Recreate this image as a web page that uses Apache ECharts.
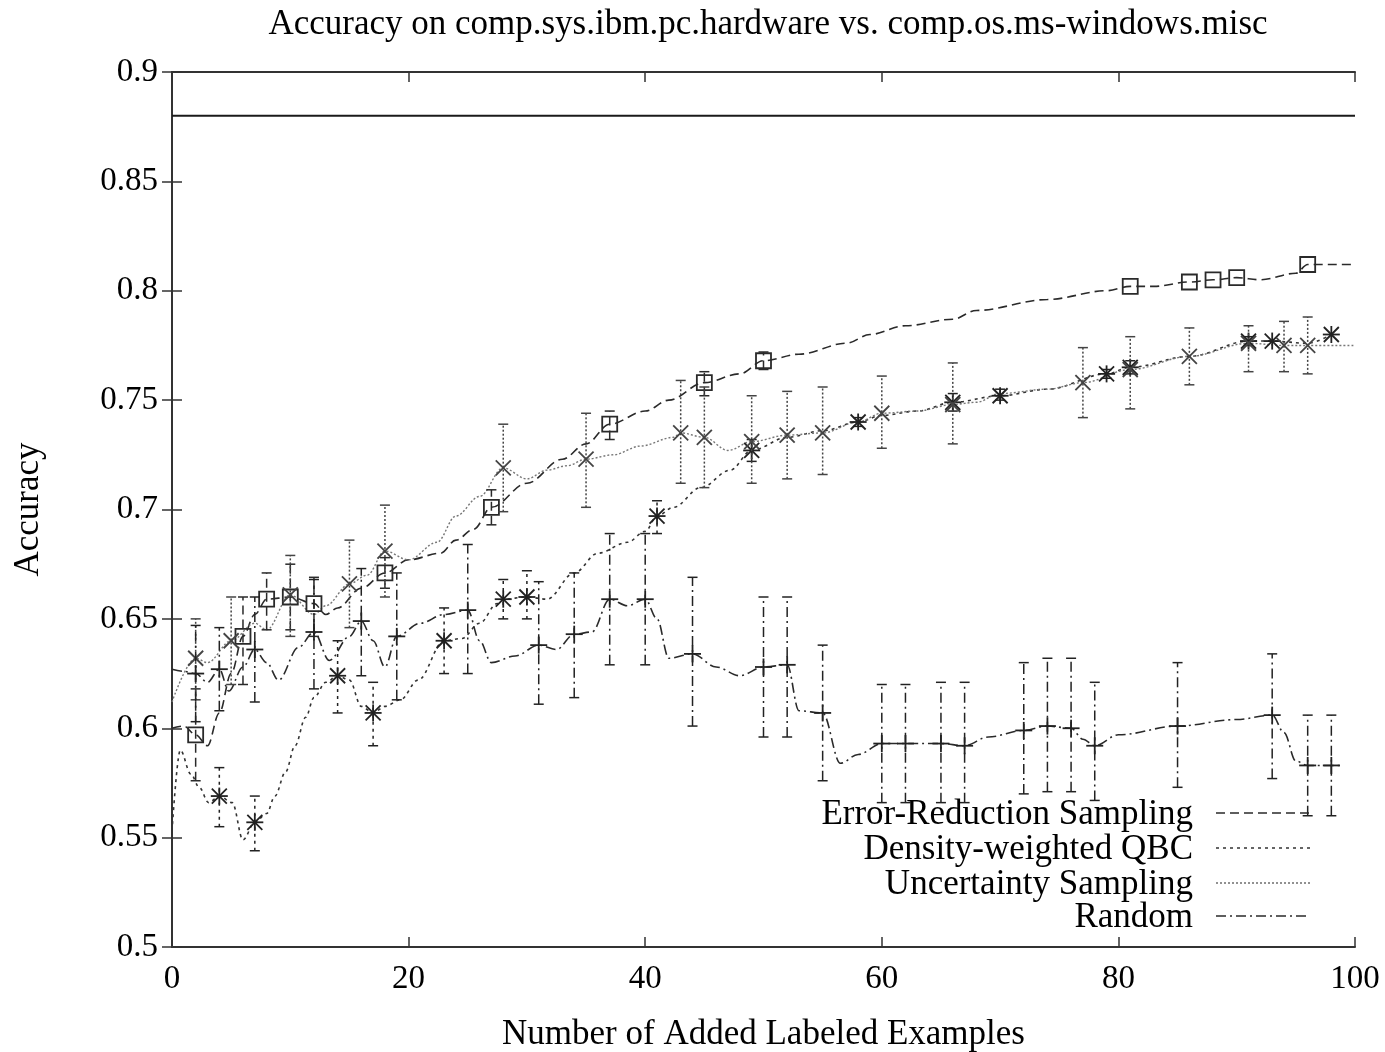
<!DOCTYPE html>
<html style="height: 100%">
    <head>
        <meta charset="utf-8">
        <title>Accuracy on comp.sys.ibm.pc.hardware vs. comp.os.ms-windows.misc</title>
    </head>
    <body style="height: 100%; margin: 0; background: #fff">
        <div id="container" style="width:1385px;height:1052px"></div>

        <script type="text/javascript" src="https://cdn.jsdelivr.net/npm/echarts@6/dist/echarts.min.js"></script>
        <script type="text/javascript">
// ---- data ----
var seriesNames = ['Error-Reduction Sampling', 'Density-weighted QBC', 'Uncertainty Sampling', 'Random'];
var allLabeled = [[0, 0.88], [100, 0.88]];

// smoothed curves [x, accuracy]
var erLine = [[0,0.600],[1,0.601],[2,0.597],[3,0.592],[4,0.607],[5,0.625],[6,0.642],[7,0.652],[8,0.659],[10,0.660],
    [12,0.657],[13,0.652],[14,0.655],[16,0.664],[18,0.671],[20,0.677],[22.7,0.680],[24,0.686],[25.5,0.691],[27,0.701],
    [30,0.712],[33,0.723],[35,0.730],[37,0.739],[40,0.745],[42,0.750],[45,0.758],[48,0.762],[50,0.768],[53,0.771],
    [57,0.776],[59,0.780],[62,0.784],[66,0.787],[68,0.791],[74,0.796],[79,0.800],[81,0.802],[83,0.802],[86,0.804],
    [88,0.805],[90,0.806],[92,0.805],[95,0.808],[96,0.812],[100,0.812]];
var qbcLine = [[0,0.553],[0.7,0.590],[1.6,0.579],[2.3,0.573],[3.1,0.566],[4,0.569],[5.1,0.566],[6,0.549],[7,0.557],[8,0.561],
    [8.7,0.569],[9.6,0.580],[10.4,0.592],[11.3,0.605],[12,0.614],[13,0.621],[14,0.624],[15,0.622],[16,0.610],[17,0.607],
    [18,0.610],[19.3,0.613],[20.8,0.622],[23,0.640],[24.5,0.641],[26,0.648],[27.5,0.657],[28,0.659],[30,0.660],[31.7,0.659],
    [34,0.671],[36,0.680],[38.5,0.685],[40,0.690],[41,0.697],[42.4,0.701],[44.7,0.710],[47.2,0.718],[49,0.727],[52,0.733],
    [55,0.736],[58,0.740],[60,0.743],[63,0.745],[66,0.749],[70,0.752],[74,0.755],[79,0.762],[81,0.765],[86,0.770],
    [91,0.777],[93,0.777],[96,0.776],[98,0.780]];
var uncLine = [[0,0.612],[2,0.632],[3,0.630],[5,0.640],[7,0.648],[8,0.645],[10,0.661],[12,0.652],[13,0.656],[15,0.666],
    [16.5,0.670],[18,0.681],[20,0.677],[22.4,0.685],[24,0.697],[26,0.706],[28,0.719],[30,0.714],[31.7,0.718],[33.4,0.720],
    [35,0.723],[37.3,0.725],[39.6,0.729],[42.4,0.733],[43,0.735],[45,0.733],[47,0.727],[49,0.731],[52,0.734],[55,0.735],
    [58,0.740],[60,0.744],[63,0.745],[66,0.748],[68,0.749],[70,0.753],[74,0.755],[77,0.758],[81,0.764],[86,0.770],
    [91,0.776],[94,0.775],[96,0.775],[100,0.775]];
var rndLine = [[0,0.627],[1,0.626],[2,0.625],[3,0.621],[4,0.627],[4.8,0.617],[6,0.628],[7,0.636],[8,0.630],[9,0.622],
    [10.7,0.637],[12,0.644],[13.3,0.631],[15,0.642],[16,0.649],[17,0.640],[18,0.628],[19,0.642],[21,0.648],[23,0.652],
    [25,0.654],[26,0.640],[27,0.630],[29,0.633],[31,0.638],[32.5,0.636],[34,0.643],[35.5,0.644],[37,0.659],[38.5,0.656],
    [40,0.659],[41,0.650],[42,0.632],[44,0.634],[46,0.628],[48,0.624],[50,0.628],[52,0.629],[53,0.608],[55,0.607],
    [56.5,0.584],[58,0.588],[60,0.593],[62,0.593],[65,0.593],[67,0.592],[69,0.596],[72,0.599],[74,0.601],[76,0.600],
    [77,0.595],[78,0.592],[80,0.597],[85,0.601],[90,0.604],[93,0.606],[94,0.598],[95,0.585],[96,0.583],[98,0.583],[99,0.583]];

// marked points [x, accuracy, low, high]
var erPoints = [[2,0.597,0.576,0.618],[6,0.642,0.620,0.660],[8,0.659,0.645,0.671],[10,0.660,0.645,0.675],[12,0.657,0.642,0.669],
    [18,0.671,0.664,0.678],[27,0.701,0.693,0.709],[37,0.739,0.732,0.745],[45,0.758,0.752,0.763],[50,0.768,0.764,0.772],
    [81,0.802,0.802,0.802],[86,0.804,0.804,0.804],[88,0.805,0.805,0.805],[90,0.806,0.806,0.806],[96,0.812,0.812,0.812]];
var qbcPoints = [[4,0.569,0.555,0.582],[7,0.557,0.544,0.569],[14,0.624,0.607,0.640],[17,0.607,0.592,0.621],[23,0.640,0.625,0.655],
    [28,0.659,0.650,0.668],[30,0.660,0.650,0.672],[41,0.697,0.689,0.704],[49,0.727,0.722,0.732],[58,0.740,0.738,0.742],
    [66,0.749,0.745,0.753],[70,0.752,0.750,0.755],[79,0.762,0.760,0.764],[81,0.765,0.762,0.768],[91,0.777,0.775,0.779],
    [93,0.777,0.777,0.777],[98,0.780,0.780,0.780]];
var uncPoints = [[2,0.632,0.613,0.650],[5,0.640,0.620,0.660],[10,0.661,0.642,0.679],[15,0.666,0.646,0.686],[18,0.681,0.660,0.702],
    [28,0.719,0.699,0.739],[35,0.723,0.701,0.744],[43,0.735,0.712,0.759],[45,0.733,0.710,0.756],[49,0.731,0.712,0.752],
    [52,0.734,0.714,0.754],[55,0.735,0.716,0.756],[60,0.744,0.728,0.761],[66,0.748,0.730,0.767],[77,0.758,0.742,0.774],
    [81,0.764,0.746,0.779],[86,0.770,0.757,0.783],[91,0.776,0.763,0.784],[94,0.775,0.763,0.786],[96,0.775,0.762,0.788]];
var rndPoints = [[2,0.625,0.603,0.647],[4,0.627,0.608,0.646],[7,0.636,0.612,0.660],[12,0.644,0.618,0.668],[16,0.649,0.624,0.673],
    [19,0.642,0.613,0.671],[25,0.654,0.625,0.684],[31,0.638,0.611,0.667],[34,0.643,0.614,0.671],[37,0.659,0.629,0.689],
    [40,0.659,0.629,0.689],[44,0.634,0.601,0.669],[50,0.628,0.596,0.660],[52,0.629,0.596,0.660],[55,0.607,0.576,0.638],
    [60,0.593,0.566,0.620],[62,0.593,0.566,0.620],[65,0.593,0.566,0.621],[67,0.592,0.566,0.621],[72,0.599,0.570,0.630],
    [74,0.601,0.571,0.632],[76,0.600,0.571,0.632],[78,0.592,0.567,0.621],[85,0.601,0.573,0.630],[93,0.606,0.577,0.634],
    [96,0.583,0.560,0.606],[98,0.583,0.560,0.606]];

var FONT = 'Liberation Serif';
var INK = '#1a1a1a';

var dashes = {
    er: [9, 5],
    qbc: [3, 4],
    unc: [2, 2],
    rnd: [10, 4, 2, 4]
};
var colors = {er: '#2a2a2a', qbc: '#333', unc: '#777', rnd: '#2a2a2a'};

// error bar + gnuplot style point glyph
function pointRenderer(glyph, dash, color) {
    return function (params, api) {
        var x = api.value(0), y = api.value(1), lo = api.value(2), hi = api.value(3);
        var p = api.coord([x, y]);
        var kids = [];
        var st = {stroke: color, lineWidth: 1.5, fill: null};
        if (hi - lo > 0.001) {
            var a = api.coord([x, lo]), b = api.coord([x, hi]);
            kids.push({type: 'line', shape: {x1: a[0], y1: a[1], x2: b[0], y2: b[1]},
                style: {stroke: color, lineWidth: 1.5, lineDash: dash}});
            kids.push({type: 'line', shape: {x1: a[0] - 5, y1: a[1], x2: a[0] + 5, y2: a[1]}, style: st});
            kids.push({type: 'line', shape: {x1: b[0] - 5, y1: b[1], x2: b[0] + 5, y2: b[1]}, style: st});
        }
        var s = 7.5;
        var gs = {stroke: color, lineWidth: 1.8, fill: null};
        if (glyph === 'square') {
            kids.push({type: 'rect', shape: {x: p[0] - s, y: p[1] - s, width: 2 * s, height: 2 * s}, style: gs});
        }
        if (glyph === 'plus' || glyph === 'star') {
            kids.push({type: 'line', shape: {x1: p[0] - s - 1, y1: p[1], x2: p[0] + s + 1, y2: p[1]}, style: gs});
            kids.push({type: 'line', shape: {x1: p[0], y1: p[1] - s - 1, x2: p[0], y2: p[1] + s + 1}, style: gs});
        }
        if (glyph === 'cross' || glyph === 'star') {
            kids.push({type: 'line', shape: {x1: p[0] - s, y1: p[1] - s, x2: p[0] + s, y2: p[1] + s}, style: gs});
            kids.push({type: 'line', shape: {x1: p[0] - s, y1: p[1] + s, x2: p[0] + s, y2: p[1] - s}, style: gs});
        }
        return {type: 'group', children: kids};
    };
}

function curve(name, data, dash, color, width) {
    return {
        name: name, type: 'line', data: data, smooth: 0.35, smoothMonotone: 'x',
        symbol: 'none', lineStyle: {color: color, width: width, type: dash}, z: 2, silent: true
    };
}

function marks(data, glyph, dash, color) {
    return {
        type: 'custom', data: data, renderItem: pointRenderer(glyph, dash, color),
        encode: {x: 0, y: 1}, clip: true, z: 3, silent: true
    };
}

// legend drawn as key rows at the lower right (text right aligned, sample to its right)
var keyRows = [
    {name: seriesNames[0], dash: dashes.er, color: colors.er, y: 815},
    {name: seriesNames[1], dash: dashes.qbc, color: colors.qbc, y: 850},
    {name: seriesNames[2], dash: dashes.unc, color: colors.unc, y: 885},
    {name: seriesNames[3], dash: dashes.rnd, color: colors.rnd, y: 918}
];
var keyGraphics = [];
keyRows.forEach(function (r) {
    keyGraphics.push({
        type: 'text', x: 1193, y: r.y, z: 10,
        style: {text: r.name, font: '35px "Liberation Serif"', fill: '#000',
            textAlign: 'right', textVerticalAlign: 'middle'}
    });
    keyGraphics.push({
        type: 'line', z: 10,
        shape: {x1: 1216, y1: r.y - 2, x2: 1310, y2: r.y - 2},
        style: {stroke: r.color, lineWidth: 1.6, lineDash: r.dash}
    });
});

var dom = document.getElementById('container');
var myChart = echarts.init(dom, null, {renderer: 'canvas'});

var nameText = {fontFamily: FONT, fontSize: 35, color: '#000'};
var frame = {show: true, lineStyle: {color: '#333', width: 2}};
var ticks = {show: true, inside: true, length: 10, lineStyle: {color: '#333', width: 1.5}};

var option = {
    animation: false,
    backgroundColor: '#fff',
    title: {
        text: 'Accuracy on comp.sys.ibm.pc.hardware vs. comp.os.ms-windows.misc',
        left: 763, top: 2, textAlign: 'center',
        textStyle: {fontFamily: FONT, fontSize: 35, fontWeight: 'normal', color: '#000'}
    },
    grid: {left: 172, right: 30, top: 72, bottom: 105, outerBoundsMode: 'none'},
    graphic: keyGraphics,
    xAxis: [{
        type: 'value', min: 0, max: 100, interval: 20,
        axisLine: frame, axisTick: ticks, splitLine: {show: false},
        axisLabel: {fontFamily: FONT, fontSize: 33, color: '#000', margin: 16},
        name: 'Number of Added Labeled Examples', nameLocation: 'middle', nameGap: 70,
        nameTextStyle: nameText
    }, {
        type: 'value', position: 'top', min: 0, max: 100, interval: 20,
        axisLine: frame, axisTick: ticks, splitLine: {show: false}, axisLabel: {show: false}
    }],
    yAxis: [{
        type: 'value', min: 0.5, max: 0.9, interval: 0.05,
        axisLine: frame, axisTick: ticks, splitLine: {show: false},
        axisLabel: {fontFamily: FONT, fontSize: 33, color: '#000', margin: 14},
        name: 'Accuracy', nameLocation: 'middle', nameGap: 126, nameRotate: 90,
        nameTextStyle: nameText
    }, {
        type: 'value', position: 'right', min: 0.5, max: 0.9, interval: 0.05,
        axisLine: frame, axisTick: ticks, splitLine: {show: false}, axisLabel: {show: false}
    }],
    series: [
        {type: 'line', data: allLabeled, symbol: 'none', lineStyle: {color: INK, width: 1.8}, z: 2, silent: true},
        curve(seriesNames[0], erLine, dashes.er, colors.er, 1.6),
        curve(seriesNames[1], qbcLine, dashes.qbc, colors.qbc, 1.6),
        curve(seriesNames[2], uncLine, dashes.unc, colors.unc, 1.4),
        curve(seriesNames[3], rndLine, dashes.rnd, colors.rnd, 1.6),
        marks(erPoints, 'square', dashes.er, colors.er),
        marks(qbcPoints, 'star', dashes.qbc, '#222'),
        marks(uncPoints, 'cross', dashes.unc, '#444'),
        marks(rndPoints, 'plus', dashes.rnd, '#222')
    ]
};

if (option && typeof option === 'object') {
    myChart.setOption(option);
}
        </script>
    </body>
</html>
